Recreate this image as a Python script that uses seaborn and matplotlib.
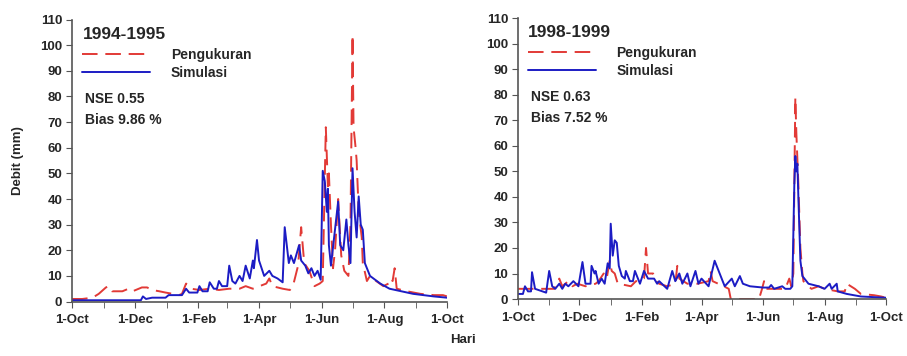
import matplotlib
matplotlib.use("Agg")
import matplotlib.pyplot as plt
import seaborn as sns
import numpy as np
import pandas as pd

# day of water year (0 = 1-Oct) and debit (mm)
hari_95_ukur = [0, 10, 20, 26, 33, 36, 39, 49, 55, 59, 68, 73, 78, 85, 91, 98, 104, 107, 111, 116,
                124, 134, 143, 153, 163, 169, 176, 189, 192, 195, 205, 212, 215, 220, 223, 226, 231,
                236, 241, 244, 247, 249, 250, 252, 254, 256, 259, 262, 265, 269, 271, 273, 274, 276,
                277, 279, 282, 283, 287, 290, 296, 303, 308, 310, 312, 314, 316, 326, 339, 352, 361, 365]
debit_95_ukur = [1, 1, 1.5, 3, 5.5, 6, 4, 4, 5, 4, 5.5, 5.5, 4.5, 4, 3.5, 3, 2.5, 3, 7, 5,
                 4.5, 5, 4.5, 5, 5, 6, 5, 7, 9, 6, 5, 4.5, 6, 14, 29, 15, 12,
                 6, 7, 8, 68, 45, 50, 30, 13, 20, 40, 18, 12, 10, 30, 104, 68, 60,
                 55, 35, 25, 15, 8, 10, 8, 6, 7, 9, 8, 13, 5, 4, 3, 2.5, 2.5, 2]

hari_95_sim = [0, 59, 67, 69, 72, 78, 91, 94, 107, 111, 114, 122, 124, 127, 132, 134, 138, 141, 143,
               146, 151, 153, 156, 159, 163, 166, 169, 173, 176, 177, 180, 182, 187, 192, 195, 200,
               205, 207, 209, 211, 213, 216, 221, 223, 227, 230, 233, 236, 239, 242, 244, 246, 248,
               249, 250, 252, 259, 261, 264, 267, 269, 271, 273, 275, 277, 279, 281, 283, 285, 290,
               300, 309, 332, 352, 365]
debit_95_sim = [0.5, 0.5, 0.5, 2, 1, 1.5, 1.5, 2.5, 2.5, 5, 3.5, 3.5, 6, 4, 4, 7.5, 5, 5, 8,
                6, 6, 14, 8, 7, 10, 8, 14, 9, 16, 13, 24, 16, 10, 12, 10, 9,
                7.5, 29, 22, 15, 18, 15, 22, 16, 14, 11, 13, 10, 12, 8.5, 51, 47, 35,
                44, 22, 14, 39, 22, 20, 32, 22, 15, 52, 35, 25, 41, 30, 28, 15, 10,
                7, 5, 3, 2, 1.5]

hari_99_ukur = [0, 28, 36, 41, 44, 50, 54, 59, 67, 77, 80, 85, 88, 91, 93, 96, 99, 106, 112, 117,
                122, 125, 127, 129, 134, 137, 140, 148, 156, 158, 160, 168, 178, 189, 191, 193, 204,
                209, 211, 239, 242, 244, 246, 265, 269, 271, 273, 275, 276, 277, 278, 280, 282, 283,
                288, 291, 298, 304, 317, 324, 326, 334, 340, 353, 360, 365]
debit_99_ukur = [4, 4, 4, 8, 5, 7, 5, 6, 5, 6, 7, 10, 8, 15, 11, 10, 6, 5.5, 5, 7,
                 7, 8, 20, 10, 10, 7, 6, 5, 6, 13, 8, 6, 6, 7, 11, 7, 5,
                 4, 0, 0, 4, 7, 4, 4, 8, 5, 10, 79, 65, 55, 45, 20, 10, 7,
                 5, 4, 5, 4, 3, 3, 6, 4, 2, 1.5, 1, 0.5]

hari_99_sim = [0, 5, 7, 10, 13, 14, 17, 28, 31, 34, 37, 41, 44, 47, 50, 55, 60, 64, 67, 72, 73, 76,
               77, 80, 83, 86, 89, 91, 92, 94, 96, 98, 100, 103, 106, 107, 111, 114, 116, 121, 125,
               129, 135, 138, 140, 148, 153, 156, 160, 163, 168, 171, 176, 179, 182, 189, 195, 198,
               202, 205, 212, 215, 220, 223, 230, 243, 249, 251, 254, 262, 265, 270, 272, 274, 275,
               276, 277, 278, 280, 282, 288, 298, 304, 309, 311, 316, 317, 326, 340, 365]
debit_99_sim = [2, 2, 5, 3, 3, 10.5, 4, 2.5, 11, 5, 4, 6, 4, 6, 5, 7, 5, 14.5, 6, 6, 13, 10,
                11, 6, 8, 6, 14, 12, 29.5, 17, 23, 22, 13, 9, 8, 11, 7, 7, 11, 6, 11,
                8, 8, 6, 7, 4, 11, 7, 10, 6, 10, 5, 11, 6, 8, 5, 15, 12,
                8, 5, 8, 5, 9, 6, 5, 4.5, 4.5, 5.5, 4, 5, 4, 4, 5, 45, 56,
                50, 53, 40, 15, 9, 6, 5, 4, 6, 4, 6, 3, 2, 1, 0.5]

panels = [
    ("1994-1995", "NSE 0.55", "Bias 9.86 %", hari_95_ukur, debit_95_ukur, hari_95_sim, debit_95_sim),
    ("1998-1999", "NSE 0.63", "Bias 7.52 %", hari_99_ukur, debit_99_ukur, hari_99_sim, debit_99_sim),
]

bulan_hari = [0, 31, 61, 92, 123, 151, 182, 212, 243, 273, 304, 335, 365]
bulan_label = ["1-Oct", "1-Dec", "1-Feb", "1-Apr", "1-Jun", "1-Aug", "1-Oct"]

sns.set_style("white")
plt.rcParams['font.family'] = ['Liberation Sans', 'DejaVu Sans']
plt.rcParams['font.weight'] = 'bold'

merah = "#e23a36"
biru = "#1c1cc4"
abu = "#555555"

fig = plt.figure(figsize=(9.07, 3.56), dpi=100)
posisi = [[0.0794, 0.153, 0.4135, 0.792], [0.571, 0.160, 0.406, 0.789]]

for pos, (judul, nse, bias, hu, du, hs, ds) in zip(posisi, panels):
    ax = fig.add_axes(pos)
    df_u = pd.DataFrame({"hari": hu, "debit": du})
    df_s = pd.DataFrame({"hari": hs, "debit": ds})
    sns.lineplot(data=df_u, x="hari", y="debit", ax=ax, color=merah, lw=1.4,
                 linestyle=(0, (8, 4)), label="Pengukuran", errorbar=None)
    sns.lineplot(data=df_s, x="hari", y="debit", ax=ax, color=biru, lw=1.4,
                 label="Simulasi", errorbar=None)
    ax.set_xlim(0, 365)
    ax.set_ylim(0, 110)
    ax.set_yticks(np.arange(0, 111, 10))
    ax.set_xticks(bulan_hari[::2])
    ax.set_xticklabels(bulan_label, fontsize=9.5, fontweight='bold')
    ax.set_xticks(bulan_hari, minor=True)
    ax.tick_params(axis='y', labelsize=9.5, length=4, color=abu, direction='out', left=True, pad=3)
    ax.tick_params(axis='x', which='both', length=4, color=abu, direction='out', bottom=True, pad=5)
    for lbl in ax.get_yticklabels():
        lbl.set_fontweight('bold')
    ax.set_xlabel("")
    ax.set_ylabel("")
    for s in ["top", "right"]:
        ax.spines[s].set_visible(False)
    for s in ["left", "bottom"]:
        ax.spines[s].set_color(abu)
        ax.spines[s].set_linewidth(1.2)
    ax.text(0.028, 0.975, judul, transform=ax.transAxes, fontsize=12.5, fontweight='bold',
            va='top', ha='left')
    ax.legend(loc='upper left', bbox_to_anchor=(0.0, 0.935), frameon=False, fontsize=10,
              handlelength=4.9, handletextpad=1.5, labelspacing=0.3, borderaxespad=0.3)
    ax.text(0.035, 0.72, nse, transform=ax.transAxes, fontsize=10, fontweight='bold', va='center')
    ax.text(0.035, 0.645, bias, transform=ax.transAxes, fontsize=10, fontweight='bold', va='center')

fig.text(0.02, 0.55, "Debit (mm)", rotation=90, fontsize=9.5, fontweight='bold', ha='center', va='center')
fig.text(0.51, 0.045, "Hari", fontsize=9.5, fontweight='bold', ha='center', va='center')

fig.savefig("out.png", dpi=100)
